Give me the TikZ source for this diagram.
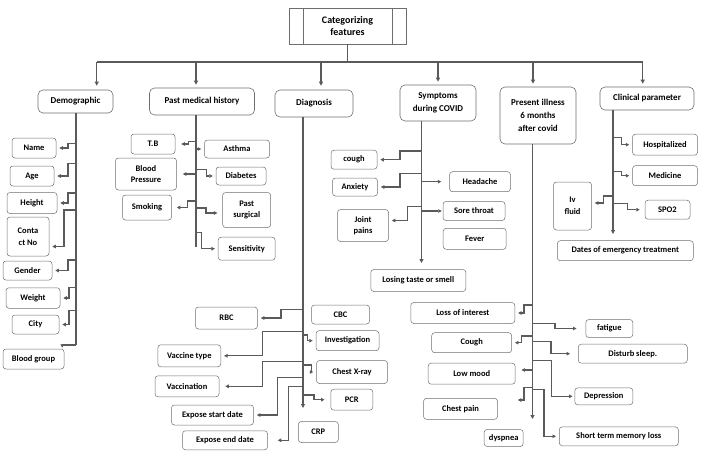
\documentclass[tikz,border=0pt]{standalone}
\usepackage{fontspec}
\setmainfont{Carlito}
\usepackage{tikz}
\usetikzlibrary{positioning,arrows.meta,calc}
\definecolor{FeatGray}{HTML}{5A5A5A}
\definecolor{FeatEdge}{HTML}{6E6E6E}

\begin{document}
\begin{tikzpicture}[
  x=1pt,y=-1pt,
  every node/.style={align=center,inner sep=1pt},
  sz/.style 2 args={minimum width=#1pt,minimum height=#2pt},
  mainbox/.style={draw=FeatEdge,line width=0.6pt,font=\bfseries\fontsize{10}{12.5}\selectfont},
  groupbox/.style={draw=FeatEdge,rounded corners=5pt,line width=0.6pt,font=\bfseries\fontsize{9}{13}\selectfont},
  itembox/.style={draw=FeatEdge,rounded corners=3pt,line width=0.5pt,font=\bfseries\fontsize{8.5}{11.5}\selectfont},
  trunk/.style={draw=FeatGray,line width=1.3pt},
  arr/.style={draw=FeatGray,line width=1.3pt,-{Triangle[length=4pt,width=4pt]}},
  elb/.style={draw=FeatGray,line width=1.1pt,-{Triangle[length=3.5pt,width=3.5pt]},shorten >=3pt}
]
  \useasboundingbox (0,0) rectangle (702,452);

  % top box
  \node[mainbox,sz={117}{36}] (top) at (347.5,26) {Categorizing\\features};
  \draw[draw=FeatEdge,line width=0.6pt] ([xshift=15pt]top.north west) -- ([xshift=15pt]top.south west);
  \draw[draw=FeatEdge,line width=0.6pt] ([xshift=-14pt]top.north east) -- ([xshift=-14pt]top.south east);

  % groups
  \node[groupbox,sz={75}{23}] (dem) at (75.5,101.5) {Demographic};
  \node[groupbox,sz={105}{27}] (pmh) at (202,101.5) {Past medical history};
  \node[groupbox,sz={78}{27}] (diag) at (314,103.5) {Diagnosis};
  \node[groupbox,sz={76}{36}] (symp) at (438,103) {Symptoms\\during COVID};
  \node[groupbox,sz={76}{57}] (pres) at (538,115.5) {Present illness\\6 months\\after covid};
  \node[groupbox,sz={94}{23}] (clin) at (647,98.5) {Clinical parameter};

  \coordinate (busL) at (96.7,62);
  \coordinate (busR) at (642.7,62);
  \draw[trunk] (top.south) -- (top.south |- busL);
  \draw[trunk] (busL) -- (busR);
  \draw[arr,shorten >=4pt] (busL) -- (busL |- dem.north);
  \draw[arr,shorten >=3pt] ([xshift=-6pt]pmh.north |- busL) -- ([xshift=-6pt]pmh.north);
  \draw[arr,shorten >=4pt] ([xshift=7pt]diag.north |- busL) -- ([xshift=7pt]diag.north);
  \draw[arr,shorten >=3pt] (symp.north |- busL) -- (symp.north);
  \draw[arr,shorten >=3pt] ([xshift=-5pt]pres.north |- busL) -- ([xshift=-5pt]pres.north);
  \draw[arr,shorten >=3pt] (busR) -- (busR |- clin.north);

  % Demographic
  \coordinate (demEnd) at (76,345);
  \node[itembox,sz={44}{20}] (name) at (34,148) {Name};
  \node[itembox,sz={44}{20}] (age) at (32,176) {Age};
  \node[itembox,sz={50}{21}] (height) at (32,203) {Height};
  \node[itembox,sz={42}{39}] (cont) at (28,236.5) {Conta\\ct No};
  \node[itembox,sz={49}{19}] (gender) at (27.5,270.5) {Gender};
  \node[itembox,sz={54}{20.5}] (weight) at (33,298) {Weight};
  \node[itembox,sz={47}{19}] (city) at (35.5,324.5) {City};
  \node[itembox,sz={61}{20}] (blood) at (33.5,359) {Blood group};

  \draw[trunk] (dem.south -| demEnd) -- (demEnd);
  \draw[elb] (demEnd |- 0,143.7) -- (68,143.7) |- (name.east);
  \draw[elb] (demEnd |- 0,163.3) -- (68,163.3) |- (age.east);
  \draw[elb] (demEnd |- 0,193) -- (68,193) |- (height.east);
  \draw[elb] (demEnd |- 0,210) -- (64,210) |- ([yshift=-10pt]cont.east);
  \draw[elb] (demEnd |- 0,260) -- (68,260) |- (gender.east);
  \draw[elb] (demEnd |- 0,287.7) -- (69,287.7) |- (weight.east);
  \draw[elb] (demEnd |- 0,310.7) -- (69,310.7) |- (city.east);
  \draw[elb,shorten >=1pt] (demEnd) -| ([xshift=-2pt]blood.north east);

  % Past medical history
  \coordinate (pmhEnd) at (196,247);
  \node[itembox,sz={44}{20}] (tb) at (153,144) {T.B};
  \node[itembox,sz={65}{18}] (asthma) at (237,149) {Asthma};
  \node[itembox,sz={61}{32}] (bp) at (146,174) {Blood\\Pressure};
  \node[itembox,sz={50}{18}] (diab) at (241,176) {Diabetes};
  \node[itembox,sz={49}{25}] (smok) at (147,207.5) {Smoking};
  \node[itembox,sz={48}{35}] (psurg) at (246.7,210) {Past\\surgical};
  \node[itembox,sz={57}{23}] (sens) at (246.7,248.7) {Sensitivity};

  \draw[trunk] ([xshift=-6pt]pmh.south) -- (pmhEnd);
  \draw[elb,shorten >=6pt] (pmhEnd |- 0,141.7) -- (188.3,141.7) |- (tb.east);
  \draw[elb] (pmhEnd |- asthma.west) -- (asthma.west);
  \draw[elb,shorten >=6pt] (pmhEnd |- bp.east) -- (bp.east);
  \draw[elb] (pmhEnd |- 0,169.3) -- (206.7,169.3) |- (diab.west);
  \draw[elb,shorten >=5pt] (pmhEnd |- 0,201) -- (187.3,201) |- (smok.east);
  \draw[elb,shorten >=5pt] (pmhEnd |- 0,208) -- (206,208) |- ([yshift=-3pt]psurg.west);
  \draw[elb] (pmhEnd |- 0,232.7) -- (201.7,232.7) |- (sens.west);

  % Diagnosis
  \coordinate (diagEnd) at (303,408);
  \node[itembox,sz={62}{22}] (rbc) at (226.5,318) {RBC};
  \node[itembox,sz={58}{19}] (cbc) at (340.5,314.5) {CBC};
  \node[itembox,sz={63}{20}] (inv) at (347.5,340.7) {Investigation};
  \node[itembox,sz={63}{22}] (vtype) at (189.3,355.8) {Vaccine type};
  \node[itembox,sz={64}{21}] (vacc) at (187,386.3) {Vaccination};
  \node[itembox,sz={71}{23}] (cxr) at (352,372) {Chest X-ray};
  \node[itembox,sz={42}{21}] (pcr) at (351.8,399.7) {PCR};
  \node[itembox,sz={82}{20}] (esd) at (212.5,415) {Expose start date};
  \node[itembox,sz={85}{19}] (eed) at (225,440.3) {Expose end date};
  \node[itembox,sz={40}{21}] (crp) at (318.3,432) {CRP};

  \draw[arr] (diag.south -| diagEnd) -- (diagEnd);
  \draw[elb] (diagEnd |- 0,309.3) -- (281,309.3) |- (rbc.east);
  \draw[elb] (diagEnd |- 0,335) -- (307.7,335) |- (inv.west);
  \draw[elb] (diagEnd |- 0,331.7) -- (262.3,331.7) |- (vtype.east);
  \draw[elb,shorten >=6pt] (diagEnd |- 0,361.7) -- (262.7,361.7) |- (vacc.east);
  \draw[elb] (diagEnd |- 0,365) -- (311.7,365) |- (cxr.west);
  \draw[elb,shorten >=6pt] (diagEnd |- 0,395) -- (314,395) |- (pcr.west);
  \draw[elb] (diagEnd |- 0,377.3) -- (277.3,377.3) |- (esd.east);
  \draw[elb,shorten >=10pt] (diagEnd |- 0,386.7) -- (288.3,386.7) |- (eed.east);

  % Symptoms during COVID
  \coordinate (sympEnd) at (421.5,263);
  \node[itembox,sz={46}{19}] (cough) at (354,159.7) {cough};
  \node[itembox,sz={45}{18}] (anx) at (355,187) {Anxiety};
  \node[itembox,sz={61}{20}] (head) at (480,181.7) {Headache};
  \node[itembox,sz={51}{32}] (joint) at (363,225.5) {Joint\\pains};
  \node[itembox,sz={62}{19}] (sore) at (474,211) {Sore throat};
  \node[itembox,sz={63}{21}] (fever) at (474.7,238.8) {Fever};
  \node[itembox,sz={95}{22}] (lose) at (418.3,280.5) {Losing taste or smell};

  \draw[arr] (symp.south -| sympEnd) -- (sympEnd);
  \draw[elb] (sympEnd |- 0,151) -- (400,151) |- (cough.east);
  \draw[elb] (sympEnd |- 0,173.3) -- (400,173.3) |- (anx.east);
  \draw[elb,shorten >=8pt] (sympEnd |- head.west) -- (head.west);
  \draw[elb] (sympEnd |- 0,206.7) -- (407.3,206.7) |- ([yshift=5pt]joint.east);
  \draw[elb,shorten >=1pt] (sympEnd |- sore.west) -- (sore.west);

  % Present illness 6 months after covid
  \coordinate (presEnd) at (532.5,419);
  \node[itembox,sz={104}{21}] (loi) at (462.8,313) {Loss of interest};
  \node[itembox,sz={47}{18}] (fat) at (609.3,328.5) {fatigue};
  \node[itembox,sz={80}{20}] (cough2) at (471.7,342.7) {Cough};
  \node[itembox,sz={109}{19}] (dist) at (632.8,353.7) {Disturb sleep.};
  \node[itembox,sz={87}{21}] (low) at (471.7,373.7) {Low mood};
  \node[itembox,sz={58}{17}] (dep) at (603.8,396.3) {Depression};
  \node[itembox,sz={74}{21}] (chest) at (460.5,408.8) {Chest pain};
  \node[itembox,sz={39}{17}] (dysp) at (503.7,438) {dyspnea};
  \node[itembox,sz={119}{19}] (stml) at (618.8,436.3) {Short term memory loss};

  \draw[arr] ([xshift=-5.5pt]pres.south) -- (presEnd);
  \draw[elb] (presEnd |- 0,305) -- (524,305) |- (loi.east);
  \draw[elb,shorten >=9pt] (presEnd |- 0,323.3) -- (555,323.3) |- (fat.west);
  \draw[elb] (presEnd |- 0,336) -- (521.7,336) |- (cough2.east);
  \draw[elb,shorten >=8pt] (presEnd |- 0,341.7) -- (551,341.7) |- (dist.west);
  \draw[elb,shorten >=6pt] (presEnd |- 0,370) -- ([yshift=3.7pt]low.east);
  \draw[elb,shorten >=2pt] (presEnd |- 0,360.7) -- (551.7,360.7) |- (dep.west);
  \draw[elb,shorten >=20pt] (presEnd |- 0,387.3) -- (524,387.3) |- ([yshift=8.8pt]chest.east);
  \draw[elb] (presEnd |- 0,389.3) -- (544,389.3) |- (stml.west);

  % Clinical parameter
  \coordinate (clinEnd) at (613,234);
  \node[itembox,sz={65}{21}] (hosp) at (665,144.7) {Hospitalized};
  \node[itembox,sz={65}{20}] (med) at (665,175.7) {Medicine};
  \node[itembox,sz={38}{48}] (iv) at (572.5,206) {Iv\\fluid};
  \node[itembox,sz={45}{19}] (spo) at (667.5,209.7) {SPO2};
  \node[itembox,sz={136}{20}] (dates) at (625.3,250.7) {Dates of emergency treatment};

  \draw[arr] (clin.south -| clinEnd) -- (clinEnd);
  \draw[elb] (clinEnd |- 0,137.3) -- (621.7,137.3) |- (hosp.west);
  \draw[elb] (clinEnd |- 0,171.7) -- (621.7,171.7) |- (med.west);
  \draw[elb] (clinEnd |- 0,196) -- (603.3,196) |- ([yshift=3pt]iv.east);
  \draw[elb,shorten >=5pt] (clinEnd |- 0,203.3) -- (627.3,203.3) |- (spo.west);
\end{tikzpicture}
\end{document}
